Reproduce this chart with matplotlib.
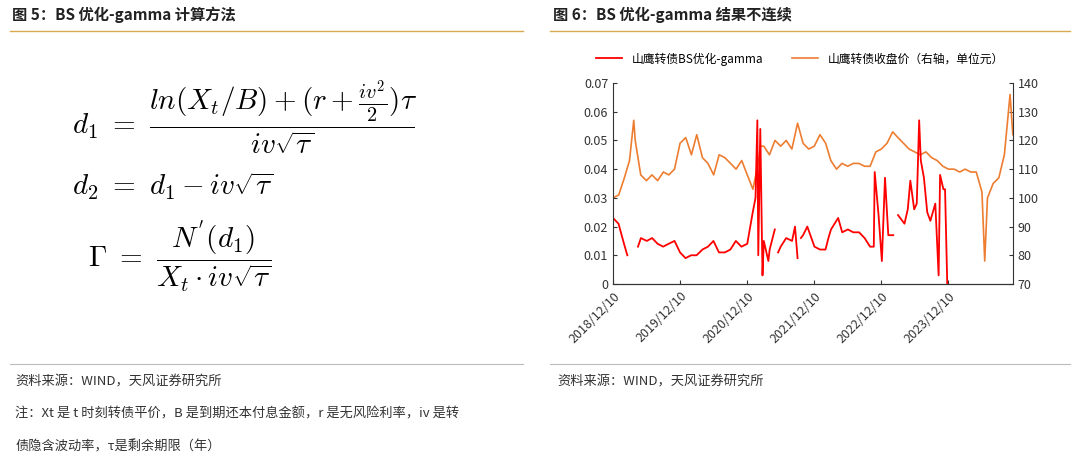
import matplotlib
matplotlib.use("Agg")
import matplotlib.pyplot as plt
import pandas as pd
import numpy as np

plt.rcParams['font.family'] = ['Noto Sans CJK SC', 'DejaVu Sans']
plt.rcParams['mathtext.fontset'] = 'cm'

# ---- data ----
orange_monthly = [100, 101, 107, 113, 120, 108, 106, 108, 106, 109, 108, 110,
                  119, 121, 115, 122, 114, 112, 108, 115, 114, 112, 110, 113,
                  108, 103, 113, 118, 115, 120, 118, 120, 117, 126, 119, 117,
                  118, 122, 119, 113, 110, 112, 111, 112, 112, 111, 111, 116,
                  117, 119, 123, 121, 119, 117, 116, 115, 116, 114, 113, 111,
                  110, 110, 109, 110, 109, 109, 102, 100, 105, 107, 115, 136]
orange_extra_dates = ["2019-04-02", "2021-02-19", "2024-06-25", "2024-11-25"]
orange_extra_vals = [127, 118, 78, 122]

red_dates = ["2018-12-10", "2019-01-09", "2019-02-08", "2019-02-26", None,
             "2019-04-25", "2019-05-11", "2019-06-12", "2019-07-11", "2019-08-10",
             "2019-09-09", "2019-10-09", "2019-11-10", "2019-12-10", "2020-01-09",
             "2020-02-08", "2020-03-09", "2020-04-10", "2020-05-10", "2020-06-09",
             "2020-07-09", "2020-08-10", "2020-09-09", "2020-10-09", "2020-11-08",
             "2020-12-10", "2021-01-09", "2021-01-24", "2021-02-03", "2021-02-08",
             "2021-02-19", "2021-03-03", "2021-03-10", "2021-04-04", "2021-04-11",
             "2021-05-09", None, "2021-05-27", "2021-06-10", "2021-07-10",
             "2021-08-11", "2021-08-27", "2021-09-10", None, "2021-09-28",
             "2021-10-10", "2021-11-02", "2021-12-11", "2022-01-10", "2022-02-09",
             "2022-02-25", "2022-03-11", "2022-04-19", "2022-05-11", "2022-06-11",
             "2022-07-10", "2022-08-11", "2022-09-10", "2022-10-10", "2022-10-30",
             "2022-11-04", "2022-11-25", "2022-12-13", "2022-12-30", "2023-01-17",
             "2023-02-13", None, "2023-03-11", "2023-04-15", "2023-05-03",
             "2023-05-17", "2023-06-07", "2023-06-21", "2023-07-04", "2023-07-13",
             "2023-07-30", "2023-08-17", "2023-09-03", "2023-09-30", "2023-10-18",
             "2023-10-26", "2023-11-13", "2023-11-22", "2023-12-04"]
red_vals = [0.023, 0.021, 0.014, 0.010, None,
            0.013, 0.016, 0.015, 0.016, 0.014,
            0.013, 0.014, 0.015, 0.011, 0.009,
            0.010, 0.010, 0.012, 0.013, 0.015,
            0.011, 0.011, 0.012, 0.015, 0.013,
            0.014, 0.025, 0.030, 0.057, 0.010,
            0.054, 0.003, 0.015, 0.008, 0.012,
            0.019, None, 0.011, 0.013, 0.016,
            0.015, 0.020, 0.009, None, 0.016,
            0.017, 0.020, 0.013, 0.012, 0.012,
            0.016, 0.019, 0.023, 0.018, 0.019,
            0.018, 0.018, 0.016, 0.013, 0.013,
            0.039, 0.024, 0.008, 0.037, 0.017,
            0.017, None, 0.024, 0.021, 0.026,
            0.036, 0.026, 0.028, 0.057, 0.043,
            0.037, 0.025, 0.022, 0.028, 0.003,
            0.038, 0.033, 0.033, 0.000]

xtick_labels = ["2018/12/10", "2019/12/10", "2020/12/10", "2021/12/10", "2022/12/10", "2023/12/10"]

# ---- build series ----
o = pd.Series(orange_monthly, index=pd.date_range("2018-12-01", periods=len(orange_monthly), freq="MS") + pd.Timedelta(days=9))
o = pd.concat([o, pd.Series(orange_extra_vals, index=pd.to_datetime(orange_extra_dates))]).sort_index()

rd, rv = [], []
last = None
for d, v in zip(red_dates, red_vals):
    if d is None:
        rd.append(last + pd.Timedelta(days=1)); rv.append(np.nan)
    else:
        last = pd.Timestamp(d); rd.append(last); rv.append(v)

fig = plt.figure(figsize=(10.8, 4.63), dpi=100)
fig.patch.set_facecolor("white")
gold = "#D9A94F"

fig.text(12/1080, 1-15/463, "图 5：BS 优化-gamma 计算方法", fontsize=11, fontweight="bold", va="center", color="#222222")
fig.text(553/1080, 1-15/463, "图 6：BS 优化-gamma 结果不连续", fontsize=11, fontweight="bold", va="center", color="#222222")
for x0, x1 in [(10, 523), (550, 1070)]:
    fig.add_artist(plt.Line2D([x0/1080, x1/1080], [1-31/463]*2, color=gold, lw=1))
    fig.add_artist(plt.Line2D([x0/1080, x1/1080], [1-364/463]*2, color="#BBBBBB", lw=0.8))

fig.text(72/1080, 1-118/463, r"$d_1\ =\ \dfrac{ln(X_t/B)+(r+\frac{iv^2}{2})\tau}{iv\sqrt{\tau}}$", fontsize=21, va="center")
fig.text(72/1080, 1-186/463, r"$d_2\ =\ d_1 - iv\sqrt{\tau}$", fontsize=21, va="center")
fig.text(88/1080, 1-257/463, r"$\Gamma\ =\ \dfrac{N^{'}(d_1)}{X_t\cdot iv\sqrt{\tau}}$", fontsize=21, va="center")

fig.text(15/1080, 1-382/463, "资料来源：WIND，天风证券研究所", fontsize=9.5, va="center", color="#333333")
fig.text(15/1080, 1-414/463, "注：Xt 是 t 时刻转债平价，B 是到期还本付息金额，r 是无风险利率，iv 是转", fontsize=9.5, va="center", color="#333333")
fig.text(15/1080, 1-447/463, "债隐含波动率，τ是剩余期限（年）", fontsize=9.5, va="center", color="#333333")
fig.text(557/1080, 1-382/463, "资料来源：WIND，天风证券研究所", fontsize=9.5, va="center", color="#333333")

ax = fig.add_axes([613/1080, 1-284/463, 400/1080, 201/463])
ax2 = ax.twinx()
l1, = ax.plot(rd, rv, color="#FF0000", lw=1.3, label="山鹰转债BS优化-gamma")
l2, = ax2.plot(o.index, o.values, color="#ED7D31", lw=1.2, label="山鹰转债收盘价（右轴，单位元）")
ax.set_zorder(ax2.get_zorder() + 1); ax.patch.set_visible(False)
ax.set_ylim(0, 0.07); ax.set_yticks(np.arange(0, 0.071, 0.01))
ax.set_yticklabels(["0"] + [f"{v:.2f}" for v in np.arange(0.01, 0.071, 0.01)])
ax2.set_ylim(70, 140); ax2.set_yticks(range(70, 141, 10))
ax.set_xlim(pd.Timestamp("2018-12-10"), pd.Timestamp("2024-11-26"))
ticks = pd.to_datetime([s.replace("/", "-") for s in xtick_labels])
ax.set_xticks(ticks); ax.set_xticklabels(xtick_labels, rotation=45, ha="right", rotation_mode="anchor")
for a in (ax, ax2):
    a.spines["top"].set_visible(False)
    a.tick_params(labelsize=9, colors="#333333", length=3)
    for s in ("left", "right", "bottom"):
        a.spines[s].set_color("#333333")
ax.spines["right"].set_visible(False)
ax2.spines["left"].set_visible(False)
ax.tick_params(axis="x", direction="in", pad=4)
ax.tick_params(axis="y", direction="in")
ax2.tick_params(axis="y", direction="in")
fig.legend(handles=[l1, l2], loc="center", bbox_to_anchor=(800/1080, 1-59/463), ncol=2,
           frameon=False, fontsize=8.5, handlelength=2.2, columnspacing=2.5)

fig.savefig("out.png", dpi=100, facecolor="white")
